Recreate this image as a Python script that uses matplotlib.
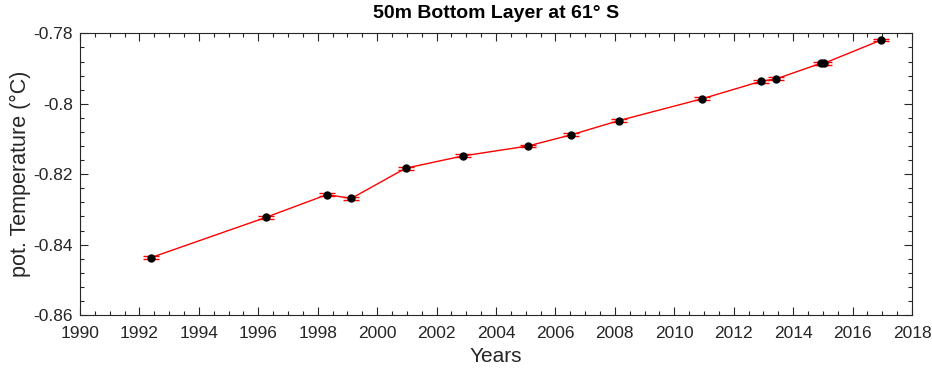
import matplotlib
matplotlib.use("Agg")
import matplotlib.pyplot as plt
from matplotlib.ticker import MultipleLocator

plt.rcParams['font.family'] = ['Liberation Sans', 'DejaVu Sans']

# Survey times (decimal years) and mean potential temperature of the 50 m bottom layer
years = [1992.39, 1996.25, 1998.31, 1999.13, 2000.96, 2002.90, 2005.07,
         2006.54, 2008.13, 2010.93, 2012.92, 2013.44, 2014.93, 2015.04, 2016.96]
temps = [-0.8437, -0.8323, -0.8258, -0.8269, -0.8183, -0.8148, -0.8120,
         -0.8088, -0.8048, -0.7986, -0.7936, -0.7929, -0.7885, -0.7885, -0.7819]
temp_err = [0.0004] * len(years)

xticks = list(range(1990, 2019, 2))
yticks = [-0.86, -0.84, -0.82, -0.80, -0.78]
ytick_labels = ['-0.86', '-0.84', '-0.82', '-0.8', '-0.78']

fig = plt.figure(figsize=(9.32, 3.71), dpi=100)
ax = fig.add_axes([0.0858, 0.151, 0.8927, 0.759])

ax.plot(years, temps, color='red', lw=1.0, zorder=2)
ax.errorbar(years, temps, yerr=temp_err, fmt='none', ecolor='red',
            elinewidth=1.0, capsize=6, capthick=1.0, zorder=2)
ax.plot(years, temps, 'o', color='black', ms=5, zorder=3)

ax.set_xlim(1990, 2018)
ax.set_ylim(-0.86, -0.78)
ax.set_xticks(xticks)
ax.set_xticklabels([str(x) for x in xticks])
ax.set_yticks(yticks)
ax.set_yticklabels(ytick_labels)
ax.xaxis.set_minor_locator(MultipleLocator(0.5))
ax.yaxis.set_minor_locator(MultipleLocator(0.004))

txt = '#262626'
ax.tick_params(which='both', direction='in', top=True, right=True,
               colors='#262626', labelcolor=txt, labelsize=12.5)
ax.tick_params(which='major', length=6, width=0.8)
ax.tick_params(which='minor', length=3, width=0.8)
ax.tick_params(axis='x', which='major', pad=8)
ax.tick_params(axis='y', which='major', pad=5)
for s in ax.spines.values():
    s.set_color('#262626')
    s.set_linewidth(0.8)

ax.set_title('50m Bottom Layer at 61° S', fontsize=14, fontweight='bold',
             color='black', pad=11)
ax.set_xlabel('Years', fontsize=15, color=txt, labelpad=4)
ax.set_ylabel('pot. Temperature (°C)', fontsize=15.5, color=txt, labelpad=2)

fig.savefig('out.png', dpi=100)
